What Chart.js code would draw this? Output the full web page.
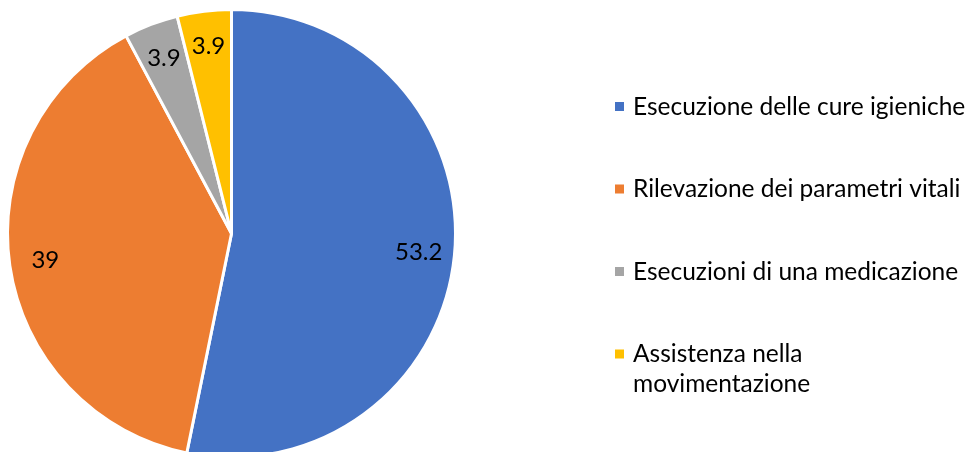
<!DOCTYPE html>
<html>
<head>
<meta charset="utf-8">
<script src="https://cdn.jsdelivr.net/npm/chart.js@4/dist/chart.umd.min.js"></script>
<style>
  html, body { margin: 0; padding: 0; background: #fff; overflow: hidden; }
  .wrap { position: relative; width: 972px; height: 462px; }
</style>
</head>
<body>
<div class="wrap"><canvas id="pie"></canvas></div>
<script>
const categories = [
  'Esecuzione delle cure igieniche',
  'Rilevazione dei parametri vitali',
  'Esecuzioni di una medicazione',
  ['Assistenza nella', 'movimentazione']
];
const values = [53.2, 39, 3.9, 3.9];
const colors = ['#4472C4', '#ED7D31', '#A5A5A5', '#FFC000'];

const FONT = 'Lato, "Open Sans", sans-serif';

// value labels inside each slice, along the middle angle
const sliceLabels = {
  id: 'sliceLabels',
  afterDatasetsDraw(chart) {
    const ctx = chart.ctx;
    const meta = chart.getDatasetMeta(0);
    ctx.save();
    ctx.font = '24px ' + FONT;
    ctx.fillStyle = '#000';
    ctx.textAlign = 'center';
    ctx.textBaseline = 'middle';
    meta.data.forEach((arc, i) => {
      const p = arc.getProps(['x', 'y', 'startAngle', 'endAngle', 'outerRadius'], true);
      const mid = (p.startAngle + p.endAngle) / 2;
      const r = p.outerRadius * 0.84;
      ctx.fillText(String(values[i]), p.x + Math.cos(mid) * r, p.y + Math.sin(mid) * r);
    });
    ctx.restore();
  }
};

// legend on the right: small square + label, one row per category
const sideLegend = {
  id: 'sideLegend',
  afterDraw(chart) {
    const ctx = chart.ctx;
    const x0 = 615, y0 = 107, rowGap = 82.5, lineH = 30;
    ctx.save();
    ctx.font = '24.5px ' + FONT;
    ctx.textBaseline = 'middle';
    ctx.textAlign = 'left';
    categories.forEach((label, i) => {
      const y = y0 + i * rowGap;
      ctx.fillStyle = colors[i];
      ctx.fillRect(x0, y - 5, 9, 9);
      ctx.fillStyle = '#000';
      const lines = Array.isArray(label) ? label : [label];
      lines.forEach((ln, j) => ctx.fillText(ln, x0 + 18, y + j * lineH));
    });
    ctx.restore();
  }
};

new Chart(document.getElementById('pie'), {
  type: 'pie',
  data: {
    labels: categories,
    datasets: [{
      data: values,
      backgroundColor: colors,
      borderColor: '#fff',
      borderWidth: 3
    }]
  },
  options: {
    responsive: true,
    maintainAspectRatio: false,
    animation: false,
    layout: { padding: { left: 6, right: 515, top: 8, bottom: 3 } },
    plugins: {
      legend: { display: false },
      tooltip: { enabled: false }
    }
  },
  plugins: [sliceLabels, sideLegend]
});
</script>
</body>
</html>
